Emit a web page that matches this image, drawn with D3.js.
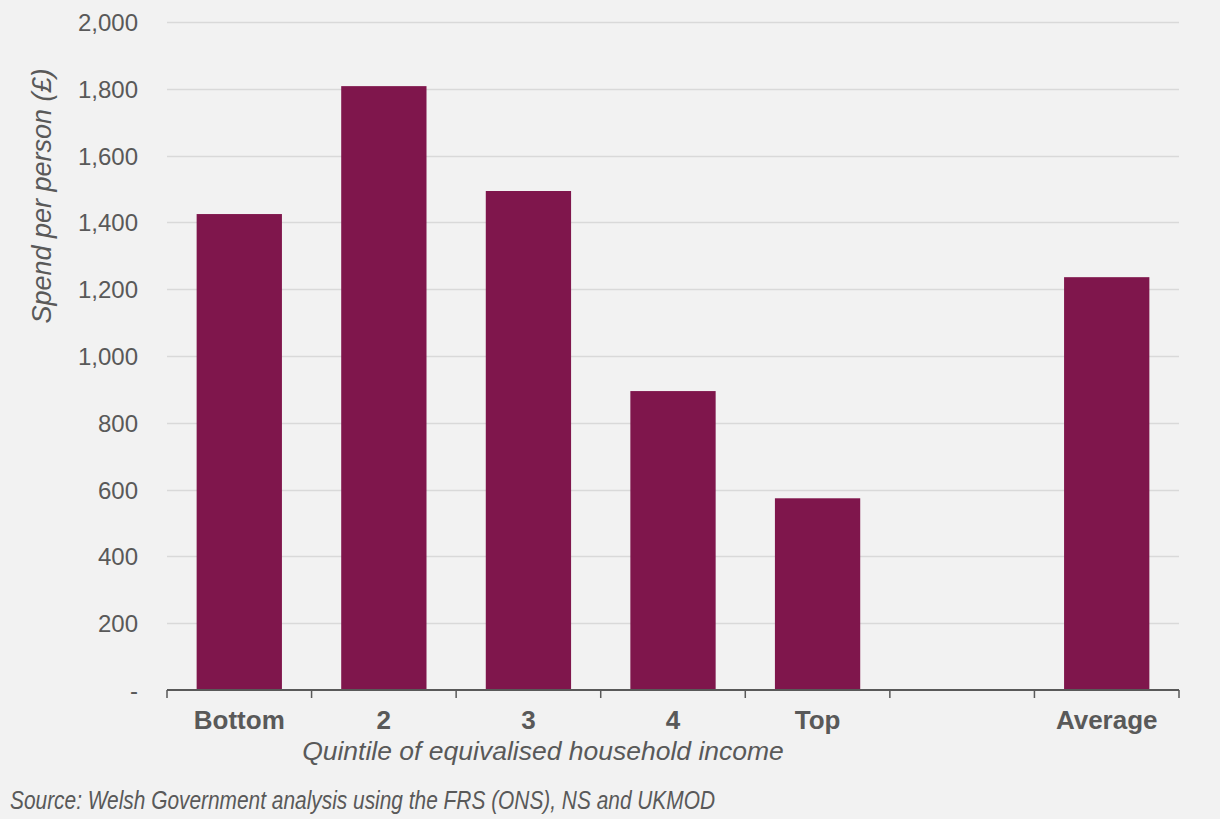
<!DOCTYPE html>
<html>
<head>
<meta charset="utf-8">
<script src="https://cdn.jsdelivr.net/npm/d3@7"></script>
<style>
  html, body { margin: 0; padding: 0; background: #f2f2f2; }
  svg { display: block; font-family: "Liberation Sans", Arial, sans-serif; }
</style>
</head>
<body>
<svg id="chart" width="1220" height="819"></svg>
<script>
// Spend per person by quintile of equivalised household income
const categories = ["Bottom", "2", "3", "4", "Top", "", "Average"];
const values = [1425, 1808, 1494, 895, 574, null, 1236];
const yTicks = [0, 200, 400, 600, 800, 1000, 1200, 1400, 1600, 1800, 2000];

const svg = d3.select("#chart");
const W = 1220, H = 819;
const margin = { left: 167, right: 41, top: 22, bottom: 129 };
const textColor = "#595959";

svg.append("rect").attr("width", W).attr("height", H).attr("fill", "#f2f2f2");

const x = d3.scaleBand()
  .domain(categories.map((c, i) => i))
  .range([margin.left, W - margin.right])
  .paddingInner(0.41)
  .paddingOuter(0.205);

const y = d3.scaleLinear()
  .domain([0, 2000])
  .range([H - margin.bottom, margin.top]);

// Horizontal gridlines
svg.append("g")
  .selectAll("line")
  .data(yTicks.filter(t => t > 0))
  .join("line")
  .attr("x1", margin.left)
  .attr("x2", W - margin.right)
  .attr("y1", d => Math.round(y(d)) + 0.5)
  .attr("y2", d => Math.round(y(d)) + 0.5)
  .attr("stroke", "#d9d9d9")
  .attr("stroke-width", 1.5);

// Y axis labels
const yAxis = d3.axisLeft(y)
  .tickValues(yTicks)
  .tickSize(0)
  .tickPadding(0)
  .tickFormat(d => d === 0 ? "-" : d3.format(",")(d));
const yg = svg.append("g")
  .attr("transform", `translate(${margin.left - 29},0)`)
  .call(yAxis);
yg.select(".domain").remove();
yg.selectAll("text")
  .attr("fill", textColor)
  .attr("font-size", 24)
  .attr("dy", "0.35em");

// Bars
svg.append("g")
  .selectAll("rect")
  .data(values.map((v, i) => ({ v, i })).filter(d => d.v != null))
  .join("rect")
  .attr("x", d => x(d.i))
  .attr("width", x.bandwidth())
  .attr("y", d => y(d.v))
  .attr("height", d => y(0) - y(d.v))
  .attr("fill", "#7f164c");

// X axis line and ticks at band boundaries
const x0 = y(0);
const step = x.step();
const boundaries = d3.range(categories.length + 1).map(i => margin.left + i * step);
const xg = svg.append("g");
xg.append("line")
  .attr("x1", margin.left).attr("x2", W - margin.right)
  .attr("y1", x0).attr("y2", x0)
  .attr("stroke", textColor).attr("stroke-width", 2);
xg.selectAll("line.tick")
  .data(boundaries)
  .join("line")
  .attr("class", "tick")
  .attr("x1", d => d).attr("x2", d => d)
  .attr("y1", x0).attr("y2", x0 + 8)
  .attr("stroke", textColor).attr("stroke-width", 1.5);

// Category labels
svg.append("g")
  .selectAll("text")
  .data(categories.map((c, i) => ({ c, i })))
  .join("text")
  .attr("x", d => x(d.i) + x.bandwidth() / 2)
  .attr("y", 729)
  .attr("text-anchor", "middle")
  .attr("font-size", 26)
  .attr("font-weight", "bold")
  .attr("fill", textColor)
  .text(d => d.c);

// Axis titles
svg.append("text")
  .attr("x", 543).attr("y", 760)
  .attr("text-anchor", "middle")
  .attr("font-size", 26.5)
  .attr("font-style", "italic")
  .attr("fill", textColor)
  .text("Quintile of equivalised household income");

svg.append("text")
  .attr("transform", `translate(51,196) rotate(-90)`)
  .attr("text-anchor", "middle")
  .attr("font-size", 27)
  .attr("font-style", "italic")
  .attr("fill", textColor)
  .text("Spend per person (£)");

// Source note
svg.append("text")
  .attr("x", 10).attr("y", 809)
  .attr("font-family", "'Liberation Sans Narrow', 'Liberation Sans', Arial, sans-serif")
  .attr("font-size", 26)
  .attr("font-style", "italic")
  .attr("fill", textColor)
  .attr("textLength", 705)
  .attr("lengthAdjust", "spacingAndGlyphs")
  .text("Source: Welsh Government analysis using the FRS (ONS), NS and UKMOD");
</script>
</body>
</html>
